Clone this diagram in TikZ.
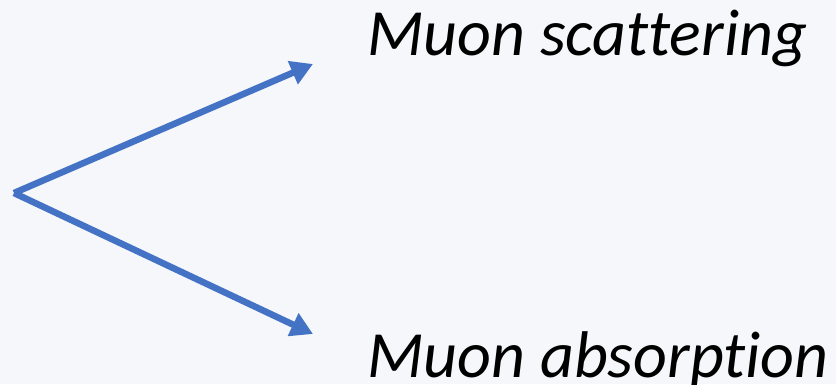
\documentclass[tikz,border=0pt]{standalone}
\usepackage{fontspec}
\setmainfont[Ligatures=NoCommon]{Carlito}
\usetikzlibrary{arrows.meta}
\definecolor{bg}{HTML}{F5F7FA}
\definecolor{arr}{HTML}{4472C4}
\begin{document}
\begin{tikzpicture}[x=1pt,y=-1pt,
  conn/.style={draw=arr,line width=6.5pt,-{Triangle[length=22pt,width=24pt]}},
  lbl/.style={anchor=base west,inner sep=0pt,font=\fontsize{66}{72}\selectfont\itshape}]
\fill[bg] (0,0) rectangle (836,384);
\useasboundingbox (0,0) rectangle (836,384);
\clip (0,0) rectangle (836,384);
\coordinate (o) at (14,193);
\coordinate (t1) at (313,64);
\coordinate (t2) at (313,334);
\draw[conn] (o) -- (t1);
\draw[conn] (o) -- (t2);
\node[lbl] (a) at (367,55) {Muon scattering};
\node[lbl] (b) at (367,377) {Muon absorption};
\end{tikzpicture}
\end{document}
